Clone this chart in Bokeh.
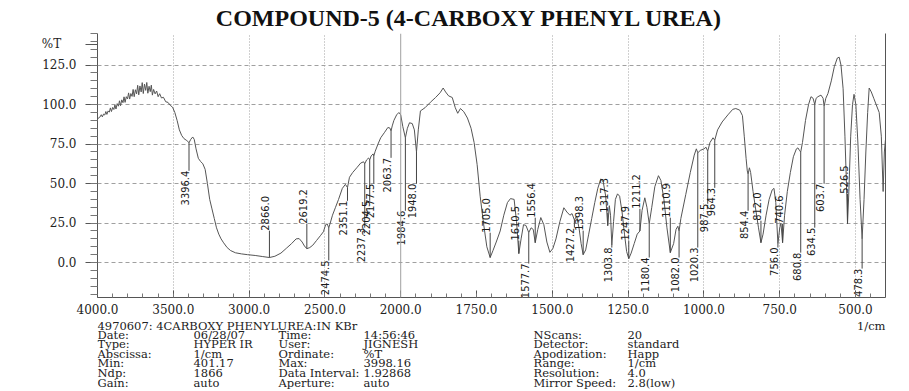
import numpy as np
from bokeh.plotting import figure
from bokeh.layouts import column
from bokeh.models import (Range1d, FixedTicker, LinearAxis, Span, ColumnDataSource, Grid,
                          CustomJSTransform, CustomJSTickFormatter)
from bokeh.transform import transform
from bokeh.core.properties import value
from bokeh.embed import file_html
from bokeh.resources import INLINE

TITLE = "COMPOUND-5 (4-CARBOXY PHENYL UREA)"

# ---------------- spectrum (wavenumber 1/cm, %T) ----------------
wavenumber = [
    4000, 3985, 3975, 3968, 3960, 3952, 3945, 3938, 3930, 3922, 3915, 3908, 3900, 3892, 3885, 3878,
    3870, 3862, 3855, 3848, 3840, 3832, 3825, 3818, 3810, 3802, 3795, 3788, 3780, 3772, 3765, 3758,
    3750, 3742, 3735, 3728, 3720, 3712, 3705, 3698, 3690, 3682, 3675, 3668, 3660, 3652, 3645, 3638,
    3630, 3620, 3610, 3600, 3590, 3578, 3565, 3550, 3535, 3520, 3505,
    3490, 3475, 3460, 3445, 3430, 3415, 3405, 3396.4, 3385, 3372, 3362, 3350, 3335, 3320, 3305, 3290,
    3275, 3260, 3245, 3230, 3215, 3200, 3185, 3168, 3145, 3122, 3090, 3050, 3010, 2960, 2910, 2866,
    2830, 2790, 2755, 2720, 2690, 2670, 2650, 2635, 2619.2, 2600, 2580, 2555, 2530, 2510, 2495, 2485,
    2474.5, 2465, 2450, 2430, 2410, 2385, 2365, 2351.1, 2338, 2317, 2290, 2264, 2245, 2237.3, 2225,
    2212, 2204.5, 2195, 2182, 2177.5, 2168, 2150, 2132, 2106, 2085, 2072, 2063.7, 2056, 2045, 2027,
    2012, 2000,
    1993, 1984.6, 1978, 1971, 1962, 1955, 1948, 1942, 1935, 1920, 1902, 1885, 1870, 1860, 1852, 1842,
    1830, 1820, 1812, 1803, 1792, 1780, 1768, 1758, 1748, 1738, 1727, 1716, 1705, 1696, 1685, 1672,
    1660, 1648, 1638, 1626, 1618, 1610.5, 1603, 1595, 1587, 1577.7, 1570, 1563, 1556.4, 1548, 1538,
    1528, 1518, 1508, 1498, 1488, 1475, 1462, 1452, 1442, 1435, 1427.2, 1420, 1412, 1405, 1398.3,
    1390, 1380, 1370, 1360, 1350, 1340, 1332, 1324, 1317.3, 1312, 1308, 1303.8, 1298, 1292, 1285,
    1278, 1270, 1262, 1255, 1247.9, 1240, 1230, 1220, 1211.2, 1204, 1195, 1188, 1180.4, 1172, 1162,
    1150, 1142, 1132, 1122, 1110.9, 1100, 1092, 1086, 1082, 1076, 1060, 1045, 1032, 1025, 1020.3,
    1012, 1000, 993, 987.5, 980, 970, 964.3, 955, 940, 921, 905, 895, 882, 873, 867, 861, 857, 854.4,
    850, 846, 838, 828, 820, 812, 805, 795, 785, 775, 769, 763, 756, 750, 746, 740.6, 734, 725, 715,
    705, 695, 690, 685, 680.8, 675, 665, 655, 647, 640, 634.5, 630, 624, 614, 607, 603.7, 598, 591,
    580, 570, 560, 554, 548, 541, 535, 530, 526.5, 522, 516, 510, 505, 499, 492, 485, 478.3, 472, 466,
    460, 455, 448, 440, 432, 422, 415, 409, 405, 401.17,
]
transmittance = [
    91.0, 92.0, 93.6, 92.2, 94.0, 93.4, 95.6, 93.8, 96.0, 95.2, 97.9, 95.6, 98.2, 96.9, 99.8, 97.2,
    100.6, 99.0, 102.4, 99.3, 103.0, 101.2, 104.9, 101.4, 105.0, 103.6, 107.4, 103.5, 107.0, 105.2, 109.6, 105.0,
    109.4, 106.8, 112.2, 106.2, 111.8, 108.0, 113.9, 107.0, 113.0, 109.0, 114.0, 107.2, 111.6, 108.2, 112.3, 106.0,
    109.6, 106.8, 108.6, 105.0, 106.9, 104.2, 104.6, 101.8, 101.4, 99.5, 98.4,
    95.0, 90.0, 84.0, 80.5, 78.5, 77.5, 76.8, 75.8, 78.0, 79.5, 78.0, 72.0, 66.0, 64.0, 62.5, 59.0,
    50.0, 40.0, 34.0, 28.0, 22.0, 18.0, 15.0, 12.5, 9.5, 7.6, 6.2, 5.5, 5.0, 4.5, 3.8, 3.2,
    4.0, 6.0, 9.0, 12.0, 15.0, 15.2, 13.0, 10.5, 8.8, 9.5, 11.0, 14.0, 17.0, 19.5, 24.0, 24.5,
    22.0, 25.0, 30.0, 35.0, 40.0, 47.0, 49.5, 47.5, 54.0, 57.0, 60.0, 63.0, 63.8, 62.5, 65.0,
    66.2, 65.0, 67.5, 68.8, 67.5, 70.5, 75.0, 79.0, 82.5, 85.5, 85.2, 83.3, 86.5, 90.0, 93.5,
    95.0, 93.5,
    86.0, 79.0, 85.0, 88.5, 88.0, 84.0, 70.0, 84.0, 96.0, 98.0, 101.5, 104.5, 107.5, 110.5, 108.0, 105.5,
    104.5, 98.0, 94.5, 97.5, 95.5, 91.5, 85.0, 76.0, 62.0, 42.0, 25.0, 10.0, 3.2, 7.5, 13.0, 20.0,
    30.0, 38.0, 40.5, 40.0, 26.0, 5.7, 15.0, 24.0, 23.5, 19.0, 22.0, 21.0, 12.6, 21.0, 28.5,
    24.0, 13.0, 6.5, 9.0, 15.0, 26.0, 34.7, 32.0, 30.0, 31.0, 27.0, 29.5, 22.0, 12.0, 5.0,
    8.0, 18.0, 28.0, 38.0, 47.0, 53.0, 51.0, 42.0, 23.4, 36.0, 30.0, 11.0, 26.0, 40.0, 43.5,
    42.0, 32.0, 18.0, 7.0, 2.5, 6.0, 12.0, 18.0, 20.0, 33.0, 41.0, 35.0, 24.6, 35.0, 48.0,
    55.0, 52.0, 40.0, 22.0, 6.3, 12.0, 21.0, 23.0, 20.0, 28.0, 43.0, 57.0, 68.0, 72.0, 69.5,
    71.0, 72.0, 73.0, 70.5, 76.0, 79.0, 77.5, 84.0, 89.0, 93.5, 97.0, 97.5, 96.5, 93.0, 80.0, 66.0, 58.0, 56.0,
    60.0, 57.0, 45.0, 32.0, 22.0, 12.6, 18.0, 30.0, 40.0, 46.0, 47.0, 38.0, 12.0, 22.0, 25.0, 12.6, 30.0, 45.0, 57.0,
    67.0, 72.0, 72.6, 71.0, 70.0, 76.0, 90.0, 100.0, 105.0, 104.0, 100.0, 104.0, 105.0, 106.0, 104.0, 99.0, 104.0, 107.0,
    115.0, 124.0, 129.5, 130.0, 125.0, 110.0, 80.0, 50.0, 24.6, 45.0, 80.0, 100.0, 106.5, 100.0, 75.0, 40.0, 15.0, 40.0, 70.0,
    95.0, 110.5, 108.0, 104.0, 100.0, 95.0, 80.0, 45.0, 70.0, 78.0,
]

# ---------------- peak annotations ----------------
peak_wn = [3396.4, 2866.0, 2619.2, 2474.5, 2351.1, 2237.3, 2204.5, 2177.5, 2063.7, 1984.6, 1948.0,
           1705.0, 1610.5, 1577.7, 1556.4, 1427.2, 1398.3, 1317.3, 1303.8, 1247.9, 1211.2, 1180.4,
           1110.9, 1082.0, 1020.3, 987.5, 964.3, 854.4, 812.0, 756.0, 740.6, 680.8, 634.5, 603.7,
           526.5, 478.3]
peak_T = [75.8, 3.2, 8.8, 22.0, 47.5, 62.5, 65.0, 67.5, 83.3, 79.0, 70.0,
          3.2, 5.7, 19.0, 12.6, 27.0, 5.0, 23.4, 11.0, 2.5, 20.0, 24.6,
          6.3, 20.0, 69.5, 70.5, 77.5, 56.0, 12.6, 12.0, 12.6, 70.0, 100.0, 99.0,
          24.6, 15.0]
label_T = [58.1, 20.2, 24.6, 1.3, 39.1, 22.1, 39.1, 49.9, 66.3, 32.8, 49.9,
           18.9, 13.9, -0.6, 28.4, 22.1, 20.2, 31.6, 9.5, 13.9, 34.1, 3.2,
           28.4, 3.2, 9.5, 37.2, 47.3, 32.8, 26.5, 9.5, 24.6, 6.3, 22.1, 49.9,
           43.6, -3.8]

# ---------------- axes ----------------
x_tick_values = [4000, 3500, 3000, 2500, 2000, 1750, 1500, 1250, 1000, 750, 500]
x_grid_values = [3500, 3000, 2500, 1500, 1250, 1000, 750, 500]
y_tick_values = [0, 25, 50, 75, 100, 125]
y_unit_label_at = 138.3   # where "%T" sits on the ordinate

# ---------------- instrument info block ----------------
info_header = "4970607: 4CARBOXY PHENYLUREA:IN KBr"
info_unit = "1/cm"
info_columns = [
    ["Date:", "Type:", "Abscissa:", "Min:", "Ndp:", "Gain:"],
    ["06/28/07", "HYPER IR", "1/cm", "401.17", "1866", "auto"],
    ["Time:", "User:", "Ordinate:", "Max:", "Data Interval:", "Aperture:"],
    ["14:56:46", "JIGNESH", "%T", "3998.16", "1.92868", "auto"],
    ["NScans:", "Detector:", "Apodization:", "Range:", "Resolution:", "Mirror Speed:"],
    ["20", "standard", "Happ", "1/cm", "4.0", "2.8(low)"],
]

# ---------------- layout (pixels of the page) ----------------
W = 909
TOP_H = 33          # title strip
MAIN_H = 286        # plot frame 264 px + axis strip
INFO_H = 391 - TOP_H - MAIN_H
FRAME_L, FRAME_R = 97, 885
col_x = [97, 193, 278, 363, 533, 627]
row_y = [334, 343.6, 353.2, 362.8, 372.4, 382]
header_y = 325
title_xy = (469, 17)


def to_t(w):
    # the 4000-2000 region is printed at half the scale of 2000-400
    return w if w <= 2000 else 2000 + (w - 2000) / 2.0


wn_axis = CustomJSTransform(
    func="return x <= 2000 ? x : 2000 + (x - 2000) / 2;",
    v_func="""
const out = new Array(xs.length);
for (let i = 0; i < xs.length; i++) {
  const w = xs[i];
  out[i] = w <= 2000 ? w : 2000 + (w - 2000) / 2;
}
return out;
""")

TXT = "#222222"
SERIF = "DejaVu Serif"


def blank_fig(h, y0):
    # frames of a column are aligned with the main plot: x spans page pixels FRAME_L..FRAME_R
    f = figure(width=W, height=h, output_backend="svg", toolbar_location=None, title=None,
               x_range=Range1d(FRAME_L, FRAME_R), y_range=Range1d(y0 + h, y0),
               x_axis_type=None, y_axis_type=None, min_border=0)
    f.min_border_left = FRAME_L
    f.min_border_right = W - FRAME_R
    f.min_border_top = f.min_border_bottom = 0
    f.outline_line_color = None
    f.grid.visible = False
    f.background_fill_color = "white"
    f.border_fill_color = "white"
    return f


# ---- title strip ----
top = blank_fig(TOP_H, 0)
top.text(x=[title_xy[0]], y=[title_xy[1]], text=[TITLE], text_align="center", text_baseline="middle",
         text_font=value("Liberation Serif"), text_font_style="bold", text_font_size="24px",
         text_color="#111111")

# ---- main spectrum ----
p = figure(width=W, height=MAIN_H, output_backend="svg", toolbar_location=None, title=None,
           x_range=Range1d(to_t(4000), 401.2), y_range=Range1d(-22.1, 145.0),
           x_axis_type=None, y_axis_type=None)
p.min_border_left = FRAME_L
p.min_border_right = W - FRAME_R
p.min_border_top = 0
p.min_border_bottom = MAIN_H - 264
p.outline_line_color = None
p.background_fill_color = "white"
p.border_fill_color = "white"

xaxis = LinearAxis(
    ticker=FixedTicker(ticks=[to_t(v) for v in x_tick_values],
                       minor_ticks=list(np.arange(450, 3000, 50))),
    formatter=CustomJSTickFormatter(
        code="const w = tick > 2000 ? 2000 + (tick - 2000) * 2 : tick; return w.toFixed(1);"),
    axis_line_color="#555555", major_tick_line_color="#555555", minor_tick_line_color="#777777",
    major_tick_in=7, major_tick_out=0, minor_tick_in=4, minor_tick_out=0,
    major_label_standoff=6, major_label_text_font=SERIF, major_label_text_font_size="12px",
    major_label_text_color=TXT)
p.add_layout(xaxis, "below")

yaxis = LinearAxis(
    ticker=FixedTicker(ticks=y_tick_values + [y_unit_label_at],
                       minor_ticks=list(range(-20, 146, 5))),
    formatter=CustomJSTickFormatter(
        code="return tick > 130 ? '%T\\u00a0\\u00a0\\u00a0\\u00a0' : tick.toFixed(1);"),
    axis_line_color="#555555", major_tick_line_color="#555555", minor_tick_line_color="#777777",
    major_tick_out=12, major_tick_in=0, minor_tick_out=7, minor_tick_in=0,
    major_label_standoff=9, major_label_text_font=SERIF, major_label_text_font_size="12px",
    major_label_text_color=TXT)
p.add_layout(yaxis, "left")

raxis = LinearAxis(ticker=FixedTicker(ticks=[]), axis_line_color="#555555",
                   major_tick_line_color=None, minor_tick_line_color=None,
                   major_label_text_font_size="0px", major_label_standoff=0,
                   major_tick_out=0, major_tick_in=0)
p.add_layout(raxis, "right")

p.add_layout(Grid(dimension=1, ticker=FixedTicker(ticks=y_tick_values),
                  grid_line_color="#a0a0a0", grid_line_dash="4 3", grid_line_width=1))
p.add_layout(Grid(dimension=0, ticker=FixedTicker(ticks=[to_t(v) for v in x_grid_values]),
                  grid_line_color="#a0a0a0", grid_line_dash="1 2", grid_line_width=1))
p.add_layout(Span(location=to_t(2000), dimension="height", line_color="#a0a0a0", line_width=1))

spec = ColumnDataSource(dict(wn=wavenumber, T=transmittance))
p.line(x=transform("wn", wn_axis), y="T", source=spec, line_color="#555555", line_width=1)

pk = ColumnDataSource(dict(wn=peak_wn, T=peak_T, LT=label_T))
p.segment(x0=transform("wn", wn_axis), y0="T", x1=transform("wn", wn_axis), y1="LT",
          source=pk, line_color="#444444", line_width=1)

txt = [f"{w:.1f}" for w in peak_wn]
up = [i for i in range(len(peak_wn)) if label_T[i] > peak_T[i]]
dn = [i for i in range(len(peak_wn)) if label_T[i] <= peak_T[i]]
LFONT = value("DejaVu Sans Condensed")
for idx, align in ((up, "left"), (dn, "right")):
    src = ColumnDataSource(dict(wn=[peak_wn[i] for i in idx], LT=[label_T[i] for i in idx],
                                s=[txt[i] for i in idx]))
    p.text(x=transform("wn", wn_axis), y="LT", text="s", source=src, angle=np.pi / 2,
           text_align=align, text_baseline="bottom", text_font=LFONT, text_font_size="11px",
           text_color="#1a1a1a")

# ---- info block ----
info = blank_fig(INFO_H, TOP_H + MAIN_H)
ix, iy, it = [], [], []
for cx, col in zip(col_x, info_columns):
    for ry, t in zip(row_y, col):
        ix.append(cx); iy.append(ry); it.append(t)
ix.append(col_x[0]); iy.append(header_y); it.append(info_header)
info.text(x=ix, y=iy, text=it, text_align="left", text_baseline="middle",
          text_font=value(SERIF), text_font_size="11.5px", text_color=TXT)
info.text(x=[FRAME_R], y=[header_y], text=[info_unit], text_align="right", text_baseline="middle",
          text_font=value(SERIF), text_font_size="11.5px", text_color=TXT)

layout = column(top, p, info, spacing=0)
open("out.html", "w").write(file_html(layout, INLINE))
